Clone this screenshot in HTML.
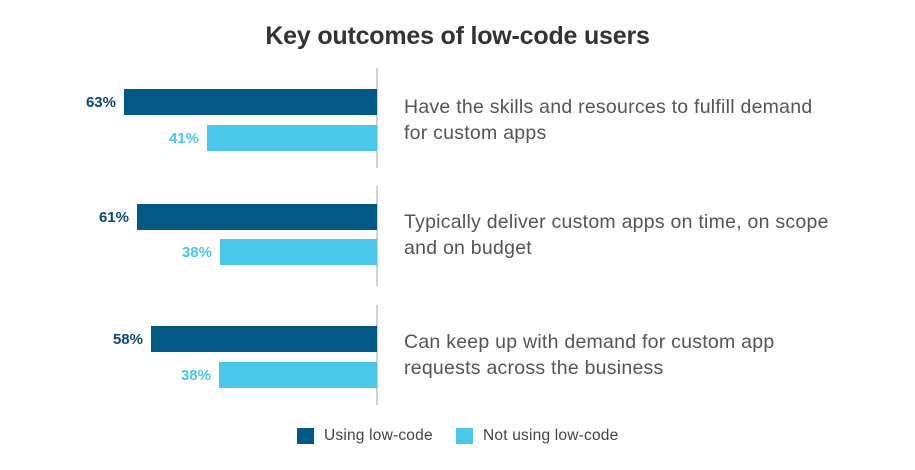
<!DOCTYPE html>
<html><head><style>
body{margin:0;width:915px;height:470px;background:#fff;font-family:"Liberation Sans",sans-serif;position:relative;overflow:hidden}
.a{position:absolute}
.d{background:#035985}.l{background:#4ac7e9}
.v{position:absolute;left:376px;width:2px;background:#c9d3dc}
.p{position:absolute;font-weight:bold;font-size:15px;text-align:right;width:60px}
.t{position:absolute;left:404px;font-size:19.5px;color:#555;line-height:26px;letter-spacing:0.25px;white-space:nowrap}
</style></head><body>
<div class="a" style="left:0;width:915px;top:22px;text-align:center;font-size:25px;font-weight:bold;color:#333;letter-spacing:-0.2px">Key outcomes of low-code users</div>
<div class="v" style="top:68px;height:100px"></div>
<div class="v" style="top:186px;height:100px"></div>
<div class="v" style="top:305px;height:100px"></div>

<div class="a d" style="left:124px;width:253px;top:89px;height:26px"></div>
<div class="a l" style="left:207px;width:170px;top:125px;height:26px"></div>
<div class="p" style="left:56px;top:94px;color:#0b4a72">63%</div>
<div class="p" style="left:139px;top:130px;color:#4ac7e9">41%</div>
<div class="t" style="top:94px">Have the skills and resources to fulfill demand<br>for custom apps</div>

<div class="a d" style="left:137px;width:240px;top:204px;height:26px"></div>
<div class="a l" style="left:220px;width:157px;top:239px;height:26px"></div>
<div class="p" style="left:69px;top:209px;color:#0b4a72">61%</div>
<div class="p" style="left:152px;top:244px;color:#4ac7e9">38%</div>
<div class="t" style="top:209px">Typically deliver custom apps on time, on scope<br>and on budget</div>

<div class="a d" style="left:151px;width:226px;top:326px;height:26px"></div>
<div class="a l" style="left:219px;width:158px;top:362px;height:26px"></div>
<div class="p" style="left:83px;top:331px;color:#0b4a72">58%</div>
<div class="p" style="left:151px;top:367px;color:#4ac7e9">38%</div>
<div class="t" style="top:329px">Can keep up with demand for custom app<br>requests across the business</div>

<div class="a d" style="left:297px;top:428px;width:17px;height:16px"></div>
<div class="a" style="left:324px;top:427px;font-size:15.5px;color:#444;letter-spacing:0.2px">Using low-code</div>
<div class="a l" style="left:456px;top:428px;width:17px;height:16px"></div>
<div class="a" style="left:483px;top:427px;font-size:15.5px;color:#444;letter-spacing:0.2px">Not using low-code</div>
</body></html>
